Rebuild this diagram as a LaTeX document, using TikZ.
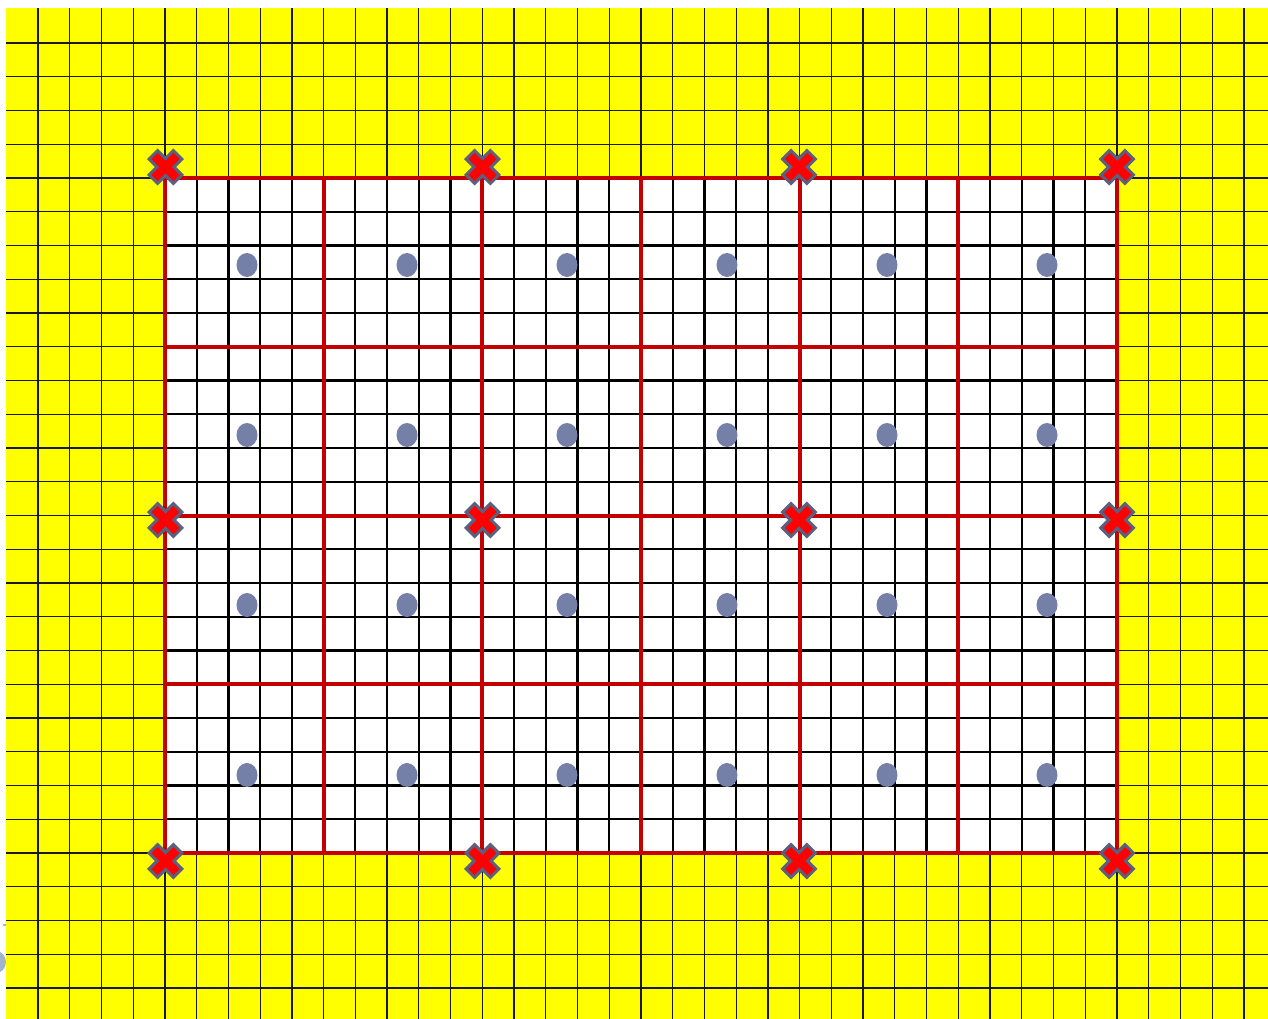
\documentclass[tikz,border=0pt]{standalone}
\definecolor{dotblue}{RGB}{116,128,168}
\definecolor{crossgray}{RGB}{90,96,128}
\definecolor{gridred}{RGB}{196,0,0}
\definecolor{artblue}{RGB}{160,180,204}
\definecolor{bgyellow}{RGB}{255,255,0}
\definecolor{crossred}{RGB}{255,0,0}
\begin{document}
\begin{tikzpicture}[x=1pt,y=-1pt,
  gridthin/.style={line width=1.3pt, draw=black!90},
  gridthick/.style={line width=2.2pt, draw=black},
  redline/.style={line width=4pt, draw=gridred},
  dotmark/.style={fill=dotblue, draw=none},
  crossmark/.pic={
    \draw[crossgray, line width=15pt] (-13.2,-13.2) -- (13.2,13.2) (-13.2,13.2) -- (13.2,-13.2);
    \draw[crossred, line width=8.5pt] (-11,-11) -- (11,11) (-11,11) -- (11,-11);
  }]
\useasboundingbox (0,0) rectangle (1268,1019);
% yellow background with thin grid
\fill[bgyellow] (6,8) rectangle (1268,1019);
\foreach \i in {1,...,39} \draw[gridthin] ({6.3+\i*31.733},8) -- ({6.3+\i*31.733},1019);
\foreach \j in {1,...,29} \draw[gridthin] (6,{9.25+\j*33.75}) -- (1268,{9.25+\j*33.75});
% white inner region with thick grid
\fill[white] (165,178) rectangle (1117,853);
\foreach \i in {6,...,34} \draw[gridthick] ({6.3+\i*31.733},178) -- ({6.3+\i*31.733},853);
\foreach \j in {6,...,24} \draw[gridthick] (165,{9.25+\j*33.75}) -- (1117,{9.25+\j*33.75});
% red partition lines
\foreach \i in {5,10,...,35} \draw[redline] ({6.3+\i*31.733},178) -- ({6.3+\i*31.733},853);
\foreach \j in {5,10,...,25} \draw[redline] (165,{9.25+\j*33.75}) -- (1117,{9.25+\j*33.75});
% blue dots
\foreach \k in {0,...,5}
  \foreach \m in {0,...,3}
    \fill[dotmark] ({247+160*\k},{265+170*\m}) ellipse [x radius=10.5pt, y radius=12pt];
% red crosses
\foreach \cx in {165.5,482.5,799,1117}
  \foreach \cy in {167,520,861}
    \pic at (\cx,\cy) {crossmark};
% cut-off artefact at left edge
\begin{scope}
  \clip (0,900) rectangle (6,1019);
  \fill[artblue] (-4,962) ellipse [x radius=10pt, y radius=11pt];
\end{scope}
\fill[artblue] (3,924) rectangle (6,926);
\end{tikzpicture}
\end{document}
